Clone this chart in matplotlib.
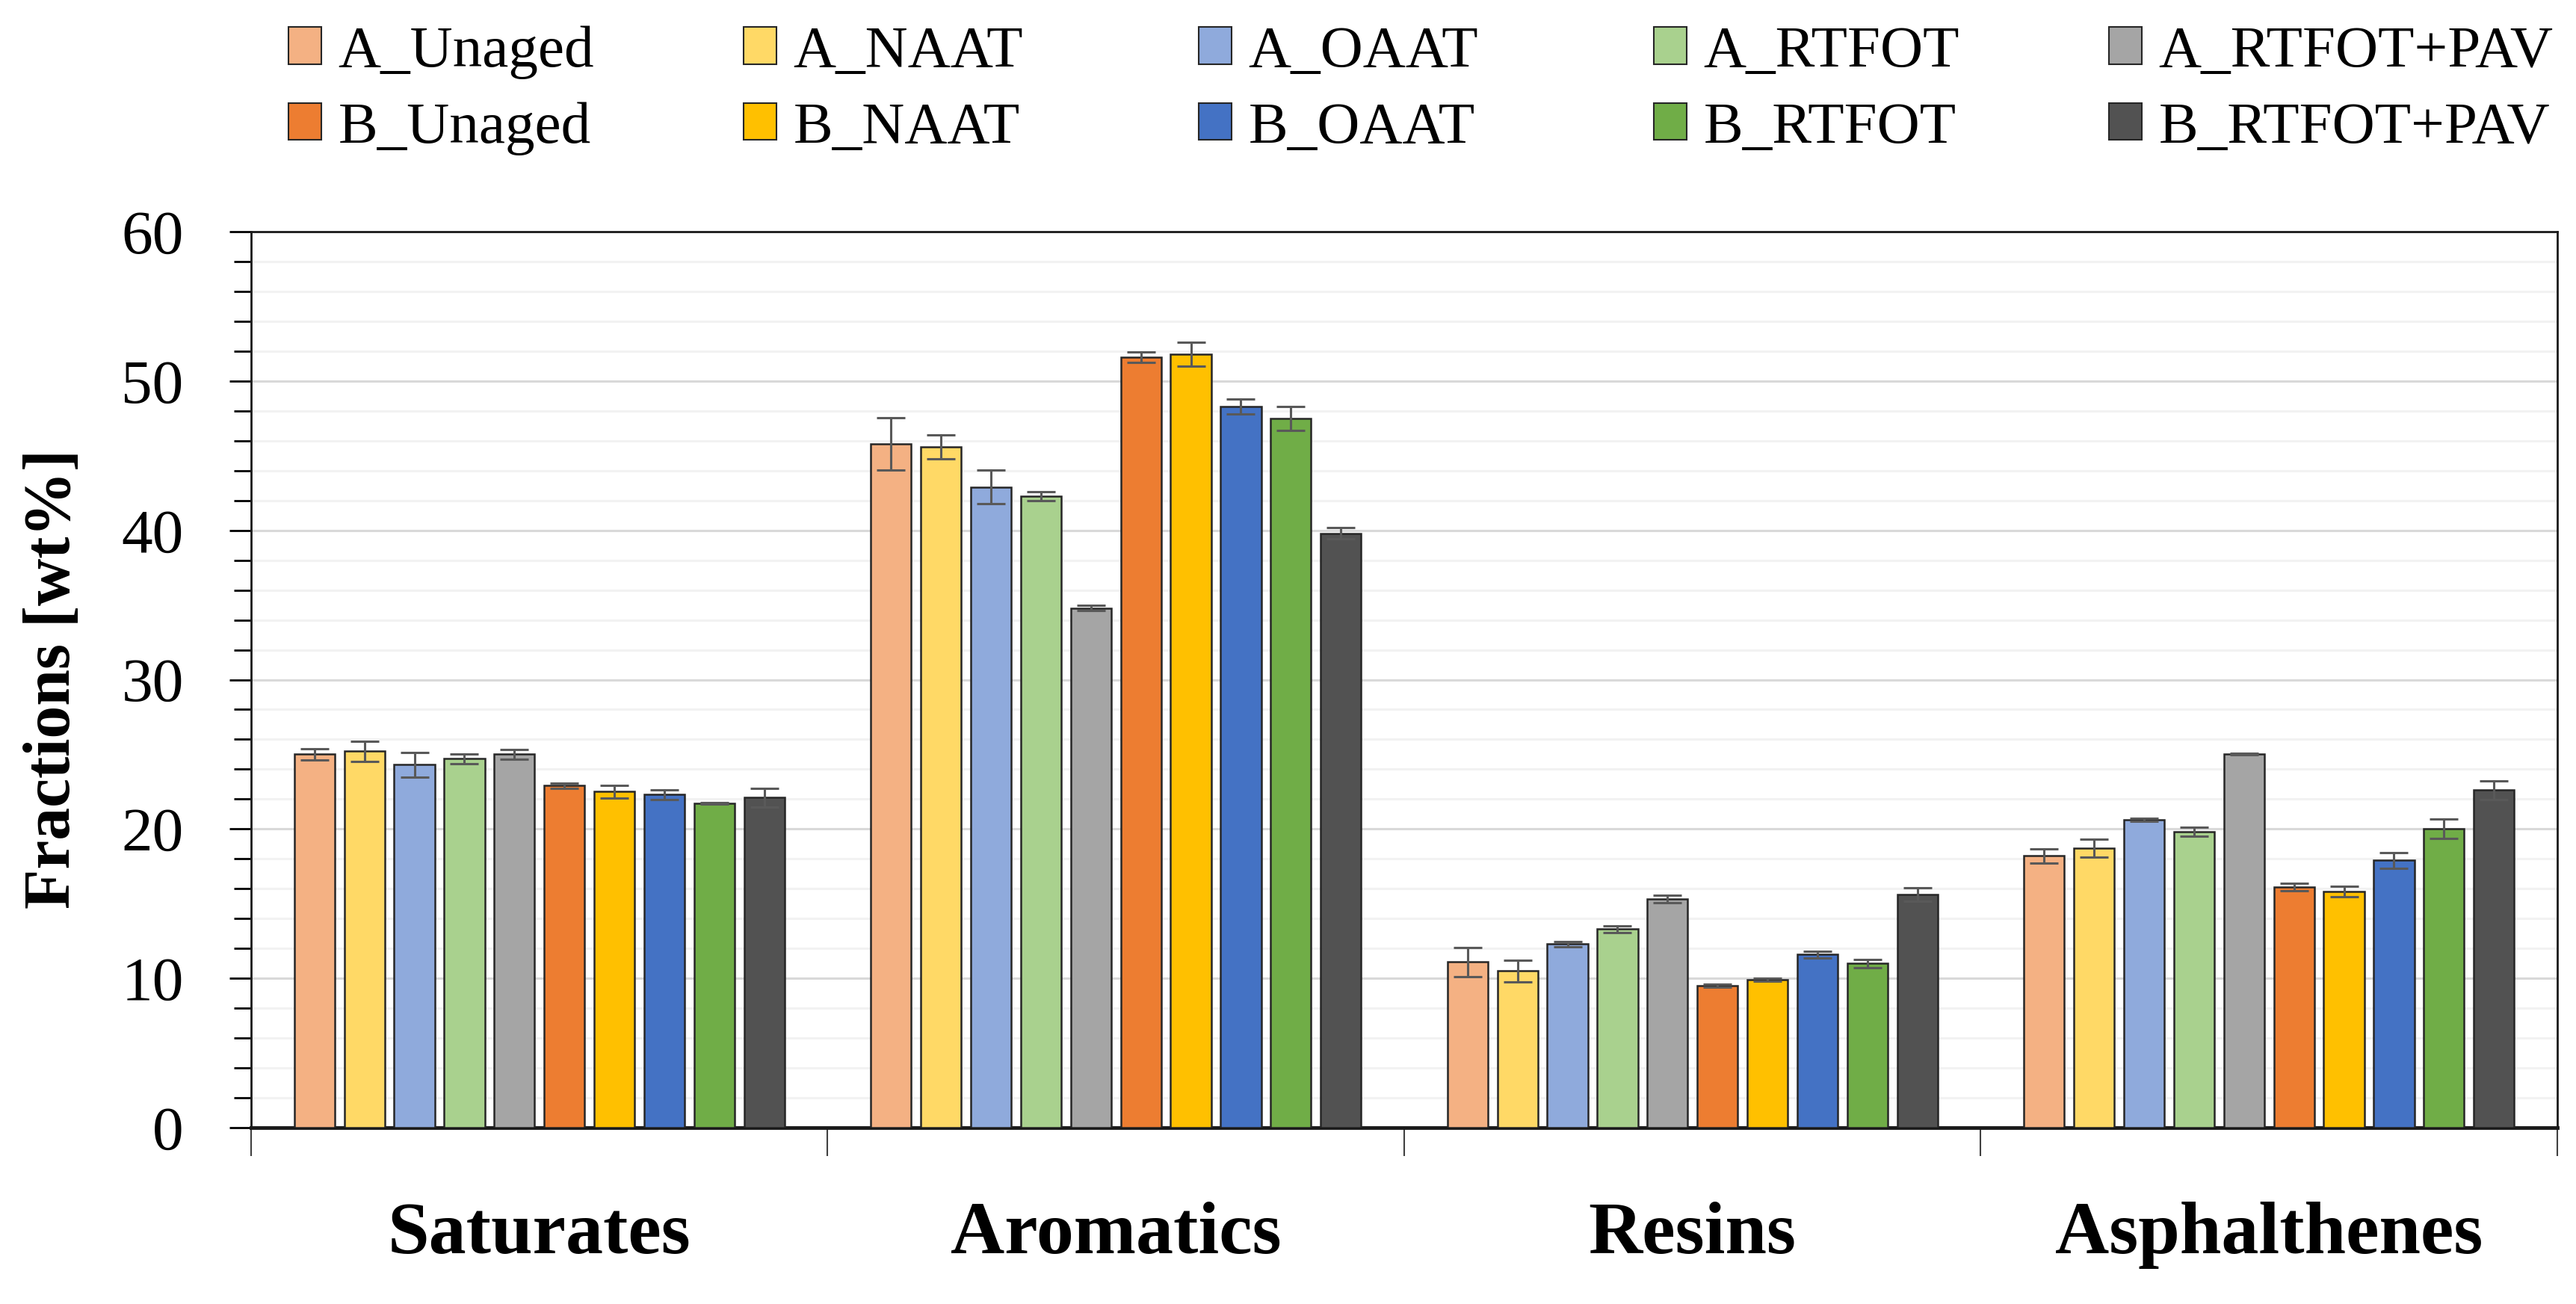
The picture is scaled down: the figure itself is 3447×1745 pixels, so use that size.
import numpy as np
import matplotlib
matplotlib.use("Agg")
import matplotlib.pyplot as plt
from matplotlib.patches import Patch
from matplotlib.ticker import MultipleLocator, FixedLocator, NullFormatter

plt.rcParams['font.family'] = ['Liberation Serif', 'DejaVu Serif']

categories = ['Saturates', 'Aromatics', 'Resins', 'Asphalthenes']
series = ['A_Unaged', 'A_NAAT', 'A_OAAT', 'A_RTFOT', 'A_RTFOT+PAV',
          'B_Unaged', 'B_NAAT', 'B_OAAT', 'B_RTFOT', 'B_RTFOT+PAV']
colors = ['#F4B183', '#FFD966', '#8FAADC', '#A9D18E', '#A5A5A5',
          '#ED7D31', '#FFC000', '#4472C4', '#70AD47', '#525252']

# values per series: Saturates, Aromatics, Resins, Asphalthenes
a_unaged   = [25.0, 45.8, 11.1, 18.2]
a_naat     = [25.2, 45.6, 10.5, 18.7]
a_oaat     = [24.3, 42.9, 12.3, 20.6]
a_rtfot    = [24.7, 42.3, 13.3, 19.8]
a_rtfotpav = [25.0, 34.8, 15.3, 25.0]
b_unaged   = [22.9, 51.6, 9.5, 16.1]
b_naat     = [22.5, 51.8, 9.9, 15.8]
b_oaat     = [22.3, 48.3, 11.6, 17.9]
b_rtfot    = [21.7, 47.5, 11.0, 20.0]
b_rtfotpav = [22.1, 39.8, 15.6, 22.6]

a_unaged_err   = [0.37, 1.74, 0.97, 0.49]
a_naat_err     = [0.68, 0.79, 0.72, 0.60]
a_oaat_err     = [0.83, 1.14, 0.18, 0.10]
a_rtfot_err    = [0.31, 0.31, 0.23, 0.30]
a_rtfotpav_err = [0.33, 0.17, 0.24, 0.05]
b_unaged_err   = [0.17, 0.35, 0.10, 0.25]
b_naat_err     = [0.44, 0.79, 0.10, 0.35]
b_oaat_err     = [0.33, 0.50, 0.23, 0.53]
b_rtfot_err    = [0.05, 0.81, 0.28, 0.65]
b_rtfotpav_err = [0.62, 0.37, 0.46, 0.61]

values = [a_unaged, a_naat, a_oaat, a_rtfot, a_rtfotpav,
          b_unaged, b_naat, b_oaat, b_rtfot, b_rtfotpav]
errors = [a_unaged_err, a_naat_err, a_oaat_err, a_rtfot_err, a_rtfotpav_err,
          b_unaged_err, b_naat_err, b_oaat_err, b_rtfot_err, b_rtfotpav_err]

W, H = 3448, 1745
fig = plt.figure(figsize=(W / 100, H / 100), dpi=100)
ax = fig.add_axes([336 / W, 1 - 1509 / H, (3422 - 336) / W, (1509 - 310) / H])

n = len(series)
group_w = 0.867
slot = group_w / n
x = np.arange(len(categories))
handles = []
for i, (name, col, v, e) in enumerate(zip(series, colors, values, errors)):
    pos = x - group_w / 2 + slot * (i + 0.5)
    ax.bar(pos, v, width=slot * 0.81, color=col, edgecolor='#262626',
           linewidth=1.8, zorder=3)
    ax.errorbar(pos, v, yerr=e, fmt='none', ecolor='#595959',
                elinewidth=2.2, capsize=14, capthick=2.2, zorder=4)
    handles.append(Patch(facecolor=col, edgecolor='#262626', linewidth=1.5, label=name))

ax.set_xlim(-0.5, len(categories) - 0.5)
ax.set_ylim(0, 60)
ax.yaxis.set_major_locator(MultipleLocator(10))
ax.yaxis.set_minor_locator(MultipleLocator(2))
ax.grid(axis='y', which='major', color='#d9d9d9', linewidth=2.2, zorder=0)
ax.grid(axis='y', which='minor', color='#f2f2f2', linewidth=2.2, zorder=0)
ax.tick_params(axis='y', which='major', labelsize=60, length=21, width=2, pad=44)
ax.tick_params(axis='y', which='minor', length=16.5, width=2)

ax.xaxis.set_major_locator(FixedLocator(np.arange(len(categories) + 1) - 0.5))
ax.xaxis.set_major_formatter(NullFormatter())
ax.set_xticks(x, categories, minor=True)
ax.tick_params(axis='x', which='major', length=27, width=1.5, color='#404040')
ax.tick_params(axis='x', which='minor', length=0, pad=71, labelsize=72)
for lab in ax.get_xticklabels(minor=True):
    lab.set_fontweight('bold')

for s in ax.spines.values():
    s.set_linewidth(2)
    s.set_color('#1a1a1a')
ax.spines['bottom'].set_linewidth(3.5)

fig.text(72 / W, 1 - 909 / H, 'Fractions [wt%]', rotation=90, ha='center',
         va='center', fontsize=63, fontweight='bold')

# legend: one column per ageing state, A row on top, B row below
col_left = [386, 995, 1604, 2213, 2822]
for k, xl in enumerate(col_left):
    fig.legend(handles=[handles[k], handles[k + 5]], loc='center left',
               bbox_to_anchor=(xl / W, 1 - 121 / H), frameon=False,
               fontsize=57, handlelength=0.56, handleheight=0.59,
               handletextpad=0.28, labelspacing=0.38, borderpad=0,
               borderaxespad=0)

fig.savefig('out.png', dpi=100)
